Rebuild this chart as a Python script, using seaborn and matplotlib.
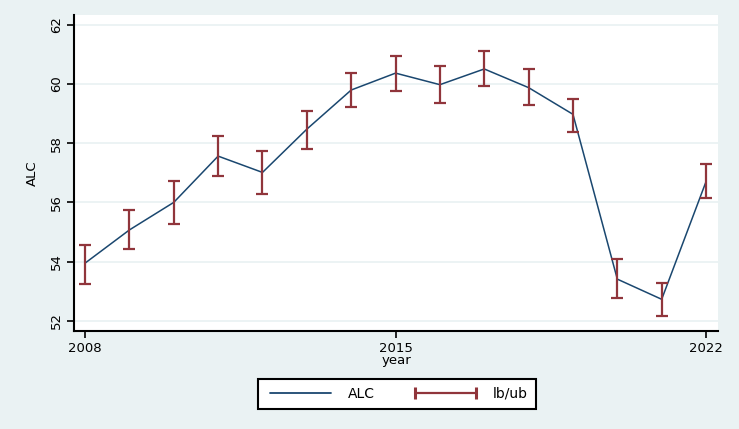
import matplotlib
matplotlib.use("Agg")
import matplotlib.pyplot as plt
from matplotlib.lines import Line2D
import seaborn as sns
import pandas as pd

years = [2008, 2009, 2010, 2011, 2012, 2013, 2014, 2015, 2016, 2017, 2018, 2019, 2020, 2021, 2022]
alc = [53.95, 55.07, 56.0, 57.56, 57.01, 58.47, 59.79, 60.36, 59.97, 60.5, 59.87, 58.97, 53.41, 52.73, 56.7]
lb = [53.26, 54.44, 55.28, 56.9, 56.29, 57.81, 59.23, 59.77, 59.35, 59.93, 59.29, 58.37, 52.79, 52.15, 56.15]
ub = [54.56, 55.73, 56.73, 58.24, 57.73, 59.09, 60.37, 60.94, 60.6, 61.1, 60.5, 59.49, 54.1, 53.28, 57.3]
xticks = [2008, 2015, 2022]
yticks = [52, 54, 56, 58, 60, 62]

BG = "#EAF2F3"
NAVY = "#1A476F"
MAROON = "#90353B"

df = pd.DataFrame({"year": years, "ALC": alc, "lb": lb, "ub": ub})

sns.set_style("white")
plt.rcParams["font.family"] = ["DejaVu Sans"]
plt.rcParams["text.color"] = "black"
plt.rcParams["axes.labelcolor"] = "black"
plt.rcParams["xtick.color"] = "black"
plt.rcParams["ytick.color"] = "black"

fig = plt.figure(figsize=(7.39, 4.29), dpi=100, facecolor=BG)
ax = fig.add_axes([0.1001, 0.2284, 0.8715, 0.7366])
ax.set_facecolor("white")

for v in yticks:
    ax.axhline(v, color=BG, lw=1.3, zorder=0)

sns.lineplot(data=df, x="year", y="ALC", ax=ax, color=NAVY, lw=1.1, zorder=2)
ax.errorbar(df["year"], (df["lb"] + df["ub"]) / 2,
            yerr=[(df["ub"] - df["lb"]) / 2, (df["ub"] - df["lb"]) / 2],
            fmt="none", ecolor=MAROON, elinewidth=1.6, capsize=4, capthick=1.6, zorder=3)

ax.set_xlim(2007.75, 2022.27)
ax.set_ylim(51.66, 62.32)
ax.set_xticks(xticks)
ax.set_yticks(yticks)
ax.set_yticklabels([str(v) for v in yticks], rotation=90, va="center")
ax.tick_params(axis="both", direction="out", length=5, width=1.2, colors="black",
               labelsize=9.5, left=True, bottom=True, pad=3)
ax.set_xlabel("year", fontsize=9.5, labelpad=-1, color="black")
ax.set_ylabel("ALC", fontsize=9.5, labelpad=8, color="black")

for s in ["top", "right"]:
    ax.spines[s].set_visible(False)
for s in ["left", "bottom"]:
    ax.spines[s].set_color("black")
    ax.spines[s].set_linewidth(1.5)

h1 = Line2D([], [], color=NAVY, lw=1.3)
h2 = Line2D([], [], color=MAROON, lw=1.6, marker="|", markersize=8, mew=2.2)
leg = fig.legend([h1, h2], ["ALC", "lb/ub"], loc="center", bbox_to_anchor=(0.537, 0.0816),
                 ncol=2, frameon=True, fancybox=False, edgecolor="black", fontsize=10,
                 handlelength=5.0, numpoints=2, columnspacing=2.6, borderpad=0.6,
                 handletextpad=0.9, borderaxespad=0)
leg.get_frame().set_linewidth(1.5)
leg.get_frame().set_facecolor("white")
leg.get_frame().set_alpha(1)
for t in leg.get_texts():
    t.set_color("black")

fig.savefig("out.png", dpi=100, facecolor=BG)
